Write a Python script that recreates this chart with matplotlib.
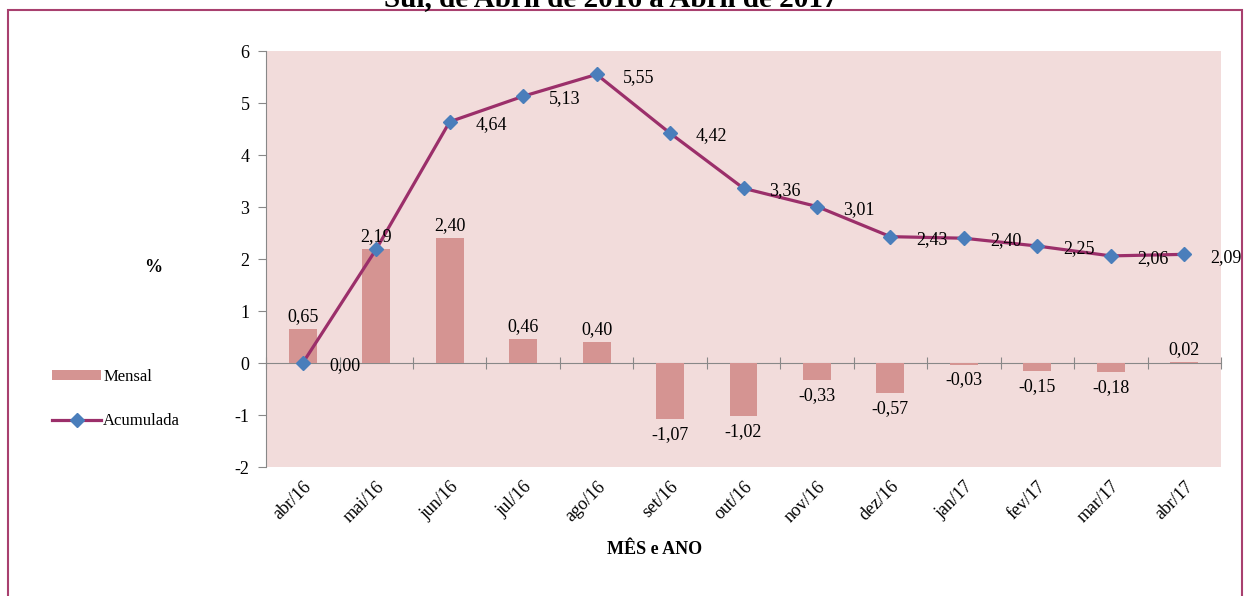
import matplotlib.pyplot as plt
import numpy as np

meses = ['abr/16', 'mai/16', 'jun/16', 'jul/16', 'ago/16', 'set/16', 'out/16',
         'nov/16', 'dez/16', 'jan/17', 'fev/17', 'mar/17', 'abr/17']
mensal = [0.65, 2.19, 2.40, 0.46, 0.40, -1.07, -1.02, -0.33, -0.57, -0.03, -0.15, -0.18, 0.02]
acumulada = [0.00, 2.19, 4.64, 5.13, 5.55, 4.42, 3.36, 3.01, 2.43, 2.40, 2.25, 2.06, 2.09]
# the accumulated label for mai/16 is not shown in the original
mostra_acum = [True, False, True, True, True, True, True, True, True, True, True, True, True]

plt.rcParams['font.family'] = ['Liberation Serif', 'DejaVu Serif']
plt.rcParams['axes.unicode_minus'] = False

fig = plt.figure(figsize=(12.45, 5.96), dpi=100)
ax = fig.add_axes([0.2137, 0.2164, 0.9807 - 0.2137, 0.9144 - 0.2164])
ax.set_facecolor('#F2DCDB')

x = np.arange(len(meses))
barras = ax.bar(x, mensal, width=0.38, color='#D59492', label='Mensal', zorder=2)
linha, = ax.plot(x, acumulada, color='#9B2F6A', lw=2.3, marker='D', markersize=7,
                 markerfacecolor='#4A7EBB', markeredgecolor='#4A7EBB', label='Acumulada', zorder=3)

def fmt(v):
    return f'{v:.2f}'.replace('.', ',')

for xi, v in zip(x, mensal):
    if v >= 0:
        ax.annotate(fmt(v), (xi, v), xytext=(0, 3), textcoords='offset points',
                    ha='center', va='bottom', fontsize=13, zorder=4)
    else:
        ax.annotate(fmt(v), (xi, v), xytext=(0, -5), textcoords='offset points',
                    ha='center', va='top', fontsize=13, zorder=4)

for xi, v, m in zip(x, acumulada, mostra_acum):
    if m:
        ax.annotate(fmt(v), (xi, v), xytext=(30, -2), textcoords='offset points',
                    ha='center', va='center', fontsize=13, zorder=4)

ax.set_xlim(-0.5, len(meses) - 0.5)
ax.set_ylim(-2, 6)
ax.set_yticks(range(-2, 7))
ax.tick_params(axis='y', direction='out', length=6, color='#888888', labelsize=13, pad=6)
ax.set_xticks(x, meses, rotation=45, ha='right', rotation_mode='anchor', fontsize=13)
ax.tick_params(axis='x', length=0, pad=8)

for s in ['top', 'right', 'bottom']:
    ax.spines[s].set_visible(False)
ax.spines['left'].set_color('#888888')

# zero line with category separator ticks
zero = ax.secondary_xaxis(0, transform=ax.transData)
zero.set_xticks(np.arange(-0.5, len(meses), 1.0), labels=[])
zero.tick_params(direction='inout', length=8, color='#888888')
zero.spines['bottom'].set_color('#888888')

fig.legend([barras, linha], ['Mensal', 'Acumulada'], loc='center left',
           bbox_to_anchor=(0.03, 0.33), frameon=False, handleheight=0.5,
           fontsize=12, handlelength=2.9, labelspacing=1.7, handletextpad=0.15)

fig.text(0.123, 1 - 268 / 596, '%', fontsize=13, fontweight='bold', ha='center', va='center')
fig.text(0.526, 1 - 550 / 596, 'MÊS e ANO', fontsize=13, fontweight='bold', ha='center', va='center')
fig.text(0.491, 1 - 6 / 596, 'Sul, de Abril de 2016 a Abril de 2017', fontsize=21,
         fontweight='bold', ha='center', va='baseline')

border = plt.Rectangle((7.5 / 1245, -0.1), (1242 - 7.5) / 1245, 1.1 - 10 / 596,
                       transform=fig.transFigure, fill=False, edgecolor='#A8406F', lw=1.5)
fig.add_artist(border)

fig.savefig('out.png', dpi=100)
